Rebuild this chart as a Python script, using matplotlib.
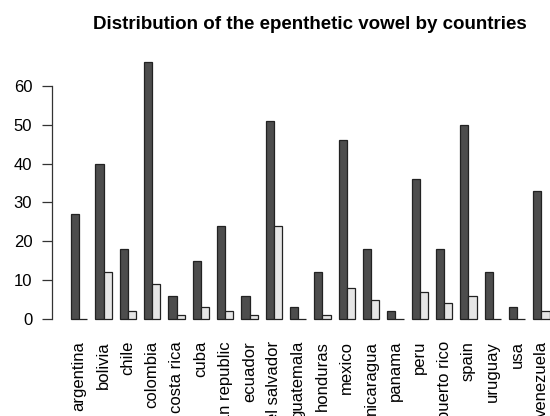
import numpy as np
import matplotlib.pyplot as plt

plt.rcParams['font.family'] = ['Liberation Sans', 'DejaVu Sans']

# data
countries = ['argentina', 'bolivia', 'chile', 'colombia', 'costa rica', 'cuba',
             'dominican republic', 'ecuador', 'el salvador', 'guatemala',
             'honduras', 'mexico', 'nicaragua', 'panama', 'peru', 'puerto rico',
             'spain', 'uruguay', 'usa', 'venezuela']
dark_vals = [27, 40, 18, 66, 6, 15, 24, 6, 51, 3, 12, 46, 18, 2, 36, 18, 50, 12, 3, 33]
light_vals = [0, 12, 2, 9, 1, 3, 2, 1, 24, 0, 1, 8, 5, 0, 7, 4, 6, 0, 0, 2]
yticks = [0, 10, 20, 30, 40, 50, 60]

W, H = 550, 416
fig = plt.figure(figsize=(W / 100, H / 100), dpi=100)
ax = fig.add_axes([52 / W, (H - 329.3) / H, (W - 52) / W, (329.3 - 52.2) / H])

# R-style beside barplot: groups of 2 bars, one bar-width gap
idx = np.arange(len(countries))
left = 1 + 3 * idx
ax.bar(left, dark_vals, width=1, align='edge', color='#4D4D4D',
       edgecolor='#222222', linewidth=0.9)
ax.bar(left + 1, light_vals, width=1, align='edge', color='#E6E6E6',
       edgecolor='#222222', linewidth=0.9)

ax.set_xlim(-1.36, 60.06)
ax.set_ylim(-2.64, 68.64)

for s in ['top', 'right', 'bottom']:
    ax.spines[s].set_visible(False)
ax.spines['left'].set_bounds(0, 60)
ax.spines['left'].set_linewidth(0.9)
ax.spines['left'].set_color('#333333')

ax.set_yticks(yticks)
ax.tick_params(axis='y', length=7.2, width=0.9, color='#333333', pad=7, labelsize=12)
ax.set_xticks(left + 1)
ax.set_xticklabels(countries, rotation=90, fontsize=12)
ax.tick_params(axis='x', length=0, pad=8.4)

fig.text(310 / W, 1 - 29.3 / H, 'Distribution of the epenthetic vowel by countries',
         ha='center', va='baseline', fontsize=13.5, fontweight='bold')

fig.savefig('out.png', dpi=100)
